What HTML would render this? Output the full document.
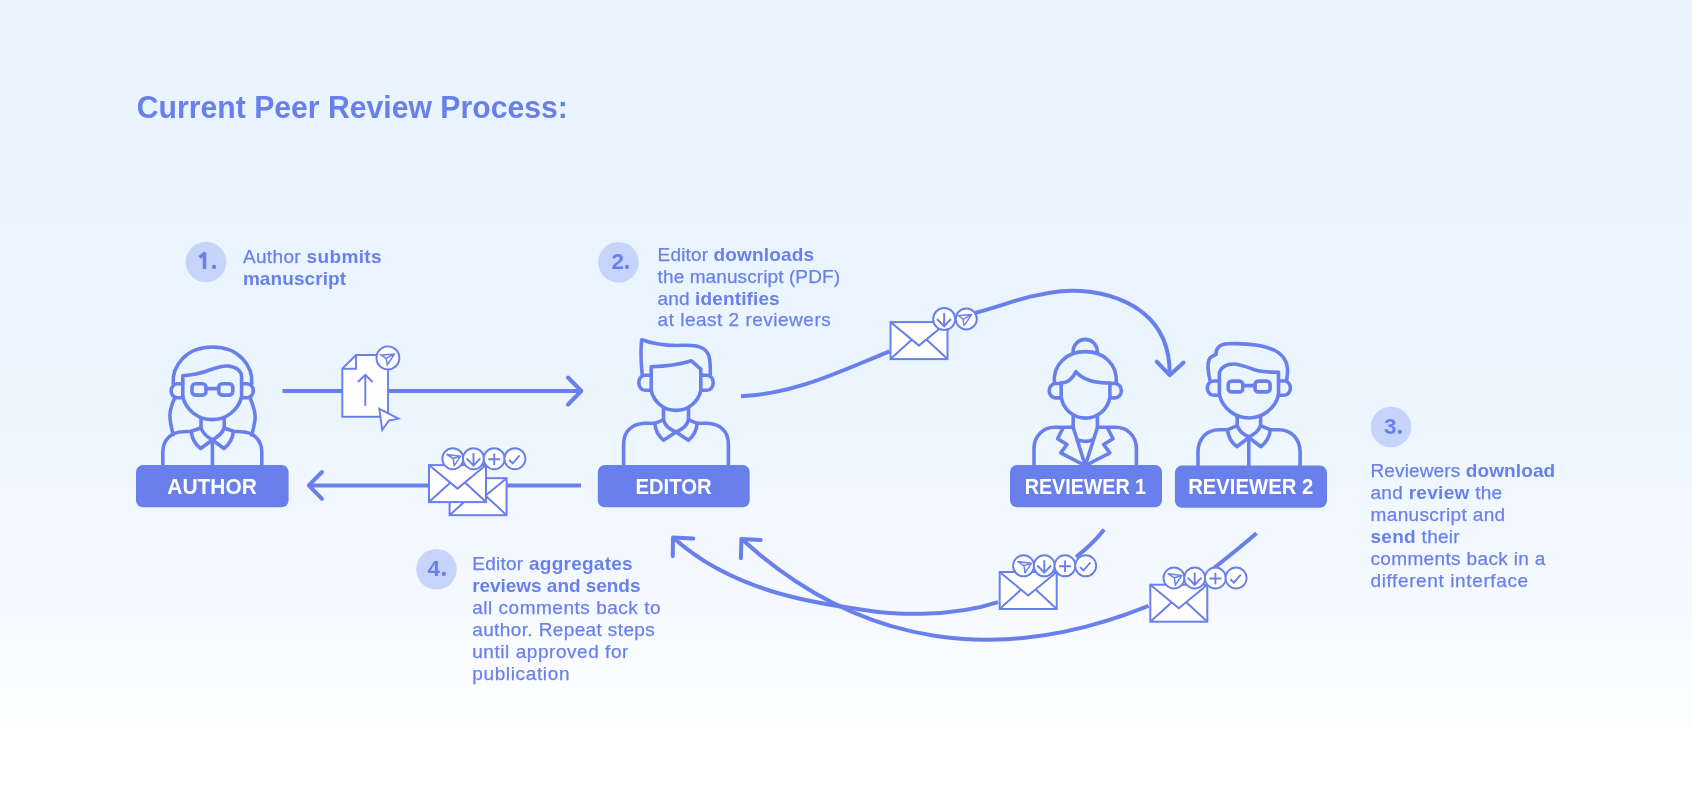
<!DOCTYPE html>
<html>
<head>
<meta charset="utf-8">
<style>
html,body{margin:0;padding:0;}
body{width:1692px;height:808px;overflow:hidden;position:relative;
background:linear-gradient(180deg,#EAF4FE 0%,#EBF5FE 48%,#F5F9FF 74%,#FFFFFF 94%,#FFFFFF 100%);
font-family:"Liberation Sans",sans-serif;}
svg{position:absolute;left:0;top:0;will-change:transform;}
.t{font-family:"Liberation Sans",sans-serif;fill:#6980EC;}
.b{font-weight:bold;}
.st{stroke:#6980EC;stroke-width:0.25px;}
.st .b{stroke-width:0;}
.lbl{font-family:"Liberation Sans",sans-serif;font-weight:bold;fill:#FFFFFF;font-size:22px;}
</style>
</head>
<body>
<svg width="1692" height="808" viewBox="0 0 1692 808">
<defs>
  <g id="env">
    <rect x="1" y="1" width="57" height="37" fill="#FFFFFF" stroke="#6980EC" stroke-width="2"/>
    <path d="M1,1 L29.5,24.5 L58,1 M1.5,37.5 L22.5,18.5 M57.5,37.5 L37,18.5" fill="none" stroke="#6980EC" stroke-width="2"/>
  </g>
  <g id="c-send">
    <circle r="10.5" fill="#FFFFFF" stroke="#6980EC" stroke-width="1.9"/>
    <path d="M7.7,-2.5 L1.4,7.1 L0.4,-0.2 L-5.8,-4.2 Z M7.7,-2.5 L0.4,-0.2" fill="none" stroke="#6980EC" stroke-width="1.5" stroke-linejoin="round"/>
  </g>
  <g id="c-down">
    <circle r="10.5" fill="#FFFFFF" stroke="#6980EC" stroke-width="1.9"/>
    <path d="M0,-5.6 V6.9 M-7,-0.3 L0,6.9 L6.8,-0.3" fill="none" stroke="#6980EC" stroke-width="1.9"/>
  </g>
  <g id="c-plus">
    <circle r="10.5" fill="#FFFFFF" stroke="#6980EC" stroke-width="1.9"/>
    <path d="M-5.9,0.5 H6 M0,-5.3 V6.3" fill="none" stroke="#6980EC" stroke-width="1.9"/>
  </g>
  <g id="c-check">
    <circle r="10.5" fill="#FFFFFF" stroke="#6980EC" stroke-width="1.9"/>
    <path d="M-5.7,1.3 L-2.2,4.6 L4.7,-3.3" fill="none" stroke="#6980EC" stroke-width="1.9"/>
  </g>
  <g id="c4">
    <use href="#c-send" x="0" y="0"/>
    <use href="#c-down" x="20.7" y="0"/>
    <use href="#c-plus" x="41.4" y="0"/>
    <use href="#c-check" x="62.1" y="0"/>
  </g>
</defs>

<!-- Title -->
<text class="t b" x="136.8" y="118" font-size="32" textLength="431" lengthAdjust="spacingAndGlyphs">Current Peer Review Process:</text>

<!-- number badges -->
<g fill="#C6D4FB">
  <circle cx="206" cy="262" r="20.3"/>
  <circle cx="618.5" cy="262.3" r="20.3"/>
  <circle cx="1391" cy="427" r="20.3"/>
  <circle cx="436.5" cy="569.3" r="20.3"/>
</g>
<g class="t b" font-size="22.5">
  <text x="611.5" y="268.6">2</text>
  <text x="1384" y="433.5">3</text>
  <text x="427.5" y="575.8">4</text>
</g>

<path d="M199.6,257.4 L204.5,253.6 V268.9" fill="none" stroke="#6980EC" stroke-width="3.6" stroke-linejoin="round"/>
<g fill="#6980EC">
  <circle cx="214" cy="266.9" r="2.1"/>
  <circle cx="626.9" cy="266.9" r="2.1"/>
  <circle cx="1399.9" cy="431.9" r="2.1"/>
  <circle cx="443.9" cy="573.9" r="2.1"/>
</g>

<!-- step texts -->
<g class="t st" font-size="19">
  <text x="242.9" y="262.6" textLength="138.6">Author <tspan class="b">submits</tspan></text>
  <text x="242.9" y="284.6" textLength="103.1"><tspan class="b">manuscript</tspan></text>

  <text x="657.6" y="260.7" textLength="156.4">Editor <tspan class="b">downloads</tspan></text>
  <text x="657.6" y="282.6" textLength="182.4">the manuscript (PDF)</text>
  <text x="657.6" y="304.5" textLength="122.1">and <tspan class="b">identifies</tspan></text>
  <text x="657.6" y="326.4" textLength="173.1">at least 2 reviewers</text>

  <text x="1370.5" y="477.1" textLength="184.7">Reviewers <tspan class="b">download</tspan></text>
  <text x="1370.5" y="499.0" textLength="131.7">and <tspan class="b">review</tspan> the</text>
  <text x="1370.5" y="520.9" textLength="134.7">manuscript and</text>
  <text x="1370.5" y="542.8" textLength="89.2"><tspan class="b">send</tspan> their</text>
  <text x="1370.5" y="564.7" textLength="174.9">comments back in a</text>
  <text x="1370.5" y="586.6" textLength="157.6">different interface</text>

  <text x="472.2" y="569.8" textLength="160.5">Editor <tspan class="b">aggregates</tspan></text>
  <text x="472.2" y="591.8" textLength="168.3"><tspan class="b">reviews and sends</tspan></text>
  <text x="472.2" y="613.8" textLength="188.3">all comments back to</text>
  <text x="472.2" y="635.8" textLength="182.6">author. Repeat steps</text>
  <text x="472.2" y="657.8" textLength="156.2">until approved for</text>
  <text x="472.2" y="679.8" textLength="97.3">publication</text>
</g>

<!-- arrows: straight -->
<g fill="none" stroke="#6980EC" stroke-width="4" stroke-linecap="butt" stroke-linejoin="round">
  <path d="M282.5,391 H581"/>
  <path d="M581,485.4 H309"/>
  <path d="M741.0,396.3 C794.2,394.0 839.7,371.7 889.5,351.3"/>
  <path d="M975.5,312.8 C1005.5,304.9 1027.9,294.5 1061.1,291.2 C1091.8,288.1 1170.9,297.4 1169.7,375.0"/>
  <path d="M1104.2,529.6 Q1092,545 1076,557"/>
  <path d="M673.3,537.8 C739.2,597.0 831.6,604.5 860.7,609.5 C890.6,614.6 949.1,618.3 998.1,602.2"/>
  <path d="M1256.6,533.3 Q1236,551 1214,568"/>
  <path d="M741.6,539.0 C861.2,648.0 1000.5,665.7 1148.5,605.9"/>
</g>
<g fill="none" stroke="#6980EC" stroke-width="4" stroke-linecap="round" stroke-linejoin="round">
  <path d="M568,377.5 L581.3,391 L568,404.5"/>
  <path d="M322,472 L308.8,485.3 L322,498.8"/>
  <path d="M1156.7,361.6 L1169.7,375.2 L1183.6,362.5"/>
  <path d="M693.3,538.5 L673,537.5 L672.8,556.2"/>
  <path d="M760.7,539.9 L741.4,539 L740.9,558.3"/>
</g>

<!-- document upload icon -->
<g stroke="#6980EC" stroke-width="1.9" fill="#FFFFFF" stroke-linejoin="miter">
  <path d="M356,355 H388 V416.8 H342.3 V368.7 Z"/>
  <path d="M356,355 V368.7 H342.3" fill="none"/>
  <path d="M365.3,405.8 V375 M358,382 L365.3,374.8 L372.6,382" fill="none"/>
  <circle cx="387.9" cy="357.9" r="11.5"/>
  <path d="M381,355 L394.4,354.2 L387.4,364.9 L386.1,358.3 Z M394.4,354.2 L386.1,358.3" fill="none" stroke-width="1.5"/>
  <path d="M379.3,408.8 L398.5,418.6 L388.8,420.6 L382.3,430 Z" stroke-width="1.9"/>
</g>

<!-- envelope top -->
<use href="#env" x="889.5" y="321.1"/>
<g>
  <circle cx="944.2" cy="319.1" r="11" fill="#FFFFFF" stroke="#6980EC" stroke-width="2"/>
  <path d="M944.2,313 V326.4 M937,319 L944.2,326.4 L951,319" fill="none" stroke="#6980EC" stroke-width="2"/>
  <circle cx="966.3" cy="318.9" r="10.5" fill="#FFFFFF" stroke="#6980EC" stroke-width="2"/>
  <path d="M958.4,315.7 L971.7,314.5 L964.1,325.7 L962.9,319.3 Z M971.7,314.5 L962.9,319.3" fill="none" stroke="#6980EC" stroke-width="1.4" stroke-linejoin="round"/>
</g>

<!-- envelopes editor->author -->
<use href="#env" x="448.6" y="477.2"/>
<use href="#env" x="428" y="464.1"/>
<use href="#c4" x="452.8" y="458.7"/>

<!-- envelopes reviewers -->
<use href="#env" x="998.7" y="571"/>
<use href="#c4" x="1023.6" y="565.8"/>
<use href="#env" x="1149.3" y="583.7"/>
<use href="#c4" x="1174" y="578"/>

<!-- persons -->
<g fill="none" stroke="#6980EC" stroke-width="3.6" stroke-linecap="round" stroke-linejoin="round">
  <!-- AUTHOR -->
  <path d="M173.2,383.5 C172,366 186,347 212.5,347 C239,347 253,366 251.8,383.5"/>
  <path d="M182.8,397.5 V375.7 C192,375 200,373.5 207,371 C214,368.5 221,365.5 228,366 C236,366.5 241.6,371 241.6,377 V397.5"/>
  <path d="M182.8,397 A30.4,30.4 0 0 0 241.6,397"/>
  <path d="M182.8,383.8 H177.5 C173.8,383.8 171.1,387 171.1,390.8 C171.1,394.6 173.8,397.8 177.5,397.8 H182.8"/>
  <path d="M241.6,383.8 H247 C250.6,383.8 253.3,387 253.3,390.8 C253.3,394.6 250.6,397.8 247,397.8 H241.6"/>
  <rect x="192" y="383.7" width="14" height="11.4" rx="3.5"/>
  <rect x="218.7" y="383.7" width="14" height="11.4" rx="3.5"/>
  <path d="M206,388.6 H218.7"/>
  <path d="M174.7,397.8 C171,406 169,414 170.2,420 C171,426 172,431 173.4,434.5 M250,397.8 C253.5,406 256,414 255,420 C254,426 253,431 251.5,435"/>
  <path d="M201,419 V428 C203,433.5 207,437 212.4,439.8 C218,437 222,433.5 224.2,428 V419"/>
  <path d="M162.8,467 V452 C162.8,440 171,432 183,431.8 L191.2,431.3 L201,428 M261.8,467 V452 C261.8,440 253.5,432 241.5,431.8 L233.4,431.3 L224.2,428"/>
  <path d="M191.2,431.5 C192,439 195.5,444.5 200.6,448.5 L212.4,440 M233.4,431.5 C232.6,439 229.1,444.5 224,448.5 L212.4,440"/>
  <path d="M212.4,440 V467"/>

  <!-- EDITOR -->
  <path d="M642.2,374.5 C641,363 640.5,350 641.7,339.8 C652,343.5 668,346 683,345.3 C697,344.8 706,347 709,356 C710.5,362 710.4,368 710.3,374.5"/>
  <path d="M651.2,390.5 V366.7 C666,366.5 680,364.5 691.4,360.8 L700.8,369.2 V390.5"/>
  <path d="M651.2,390.5 A25.4,25.4 0 0 0 700.8,390.5"/>
  <path d="M651.2,375.3 H645 C641.5,375.3 638.8,378.6 638.8,382.75 C638.8,386.9 641.5,390.2 645,390.2 H651.2"/>
  <path d="M700.8,375.3 H707 C710.5,375.3 713.2,378.6 713.2,382.75 C713.2,386.9 710.5,390.2 707,390.2 H700.8"/>
  <path d="M663.5,408 V419.8 C665,425.5 669.5,429.5 676,432 C682.5,429.5 687,425.5 688.5,419.8 V408"/>
  <path d="M623.6,467 V444 C623.6,431.5 632,423.5 645,423.3 H654.8 L663.5,419.8 M728.4,467 V444 C728.4,431.5 720,423.5 707,423.3 H697.2 L688.5,419.8"/>
  <path d="M654.8,423.3 C655.5,430.5 658.5,436 663.5,440.2 L676,432 M697.2,423.3 C696.5,430.5 693.5,436 688.5,440.2 L676,432"/>

  <!-- REVIEWER 1 -->
  <path d="M1073.1,351.5 A12.1,12.1 0 0 1 1097.3,351.5"/>
  <path d="M1054.3,383 C1053,364 1067,351.6 1085.3,351.6 C1103.6,351.6 1117.6,364 1116.3,383"/>
  <path d="M1061,383 C1068,383 1073,378 1076,371.6 C1081,378 1092,383 1109.9,383"/>
  <path d="M1061.2,383 V397 M1109.9,383 V397"/>
  <path d="M1061.2,397 A24.6,24.6 0 0 0 1109.9,397"/>
  <path d="M1061.2,383.5 H1055.5 C1052,383.5 1049.2,386.8 1049.2,390.7 C1049.2,394.6 1052,397.9 1055.5,397.9 H1061.2"/>
  <path d="M1109.9,383.5 H1115 C1118.5,383.5 1121.4,386.8 1121.4,390.7 C1121.4,394.6 1118.5,397.9 1115,397.9 H1109.9"/>
  <path d="M1073.2,416 V427.5 L1084.8,464 M1097.4,416 V427.5 L1085.8,464"/>
  <path d="M1078,440 C1082,441.5 1088.5,441.5 1092.5,440"/>
  <path d="M1034,467 V448.5 C1034,436 1043,427.3 1055,427.3 H1073.2 M1136.4,467 V448.5 C1136.4,436 1127.4,427.3 1115.4,427.3 H1097.4"/>
  <path d="M1063,428 L1057.6,438.7 L1067,444.5 L1060.7,452.9 L1083,464.5 M1107.6,428 L1113,438.7 L1103.6,444.5 L1109.9,452.9 L1087.6,464.5"/>

  <!-- REVIEWER 2 -->
  <path d="M1210,380 C1208,372 1207.5,364 1209,360 C1210,357 1213,355.5 1216.1,354.5 C1215.5,349 1219,344 1228,343.8 C1245,343.2 1262,344.5 1274,350 C1284,355 1288,363 1287.5,372.5 C1287.3,375.5 1287,378 1286.7,380"/>
  <path d="M1219.4,395 V372.5 C1221,367 1227,364 1233,364 C1240,364 1247,367 1253.7,369.5 C1259,371.5 1266,372.2 1278.5,372.2 V395"/>
  <path d="M1219.4,395 A30.5,30.5 0 0 0 1278.5,395"/>
  <path d="M1219.4,381 H1213.5 C1210,381 1207.3,384.2 1207.3,388.1 C1207.3,392 1210,395.2 1213.5,395.2 H1219.4"/>
  <path d="M1278.5,381 H1284.3 C1287.8,381 1290.4,384.2 1290.4,388.1 C1290.4,392 1287.8,395.2 1284.3,395.2 H1278.5"/>
  <rect x="1228.2" y="381.1" width="14.6" height="10.8" rx="3.5"/>
  <rect x="1255" y="381.1" width="15.1" height="10.8" rx="3.5"/>
  <path d="M1242.8,385.6 H1255"/>
  <path d="M1237.2,416 V425.7 C1239,431 1243,434.5 1248.8,437 C1254.6,434.5 1258.6,431 1260.6,425.7 V416"/>
  <path d="M1198,467 V452 C1198,439 1206.5,429.8 1219,429.8 H1227.4 L1237.2,425.7 M1300.1,467 V452 C1300.1,439 1291.3,429.8 1278.8,429.8 H1270.4 L1260.6,425.7"/>
  <path d="M1227.4,429.5 C1228.2,437 1231.5,442.5 1236.8,446.7 L1248.8,437.5 M1270.4,429.5 C1269.6,437 1266.3,442.5 1261,446.7 L1248.8,437.5"/>
  <path d="M1248.8,437.5 V467"/>
</g>

<!-- labels -->
<g fill="#6980EC">
  <rect x="136" y="465" width="152.6" height="42.2" rx="7"/>
  <rect x="597.8" y="465" width="151.9" height="42.2" rx="7"/>
  <rect x="1010" y="465" width="152" height="42.2" rx="7"/>
  <rect x="1174.9" y="465.6" width="152.1" height="42.2" rx="7"/>
</g>
<g class="lbl">
  <text x="167.3" y="494" textLength="89.5" lengthAdjust="spacingAndGlyphs">AUTHOR</text>
  <text x="635.4" y="494" textLength="76.3" lengthAdjust="spacingAndGlyphs">EDITOR</text>
  <text x="1024.8" y="494" textLength="121.2" lengthAdjust="spacingAndGlyphs">REVIEWER 1</text>
  <text x="1188.2" y="494.3" textLength="125" lengthAdjust="spacingAndGlyphs">REVIEWER 2</text>
</g>
</svg>
</body>
</html>
